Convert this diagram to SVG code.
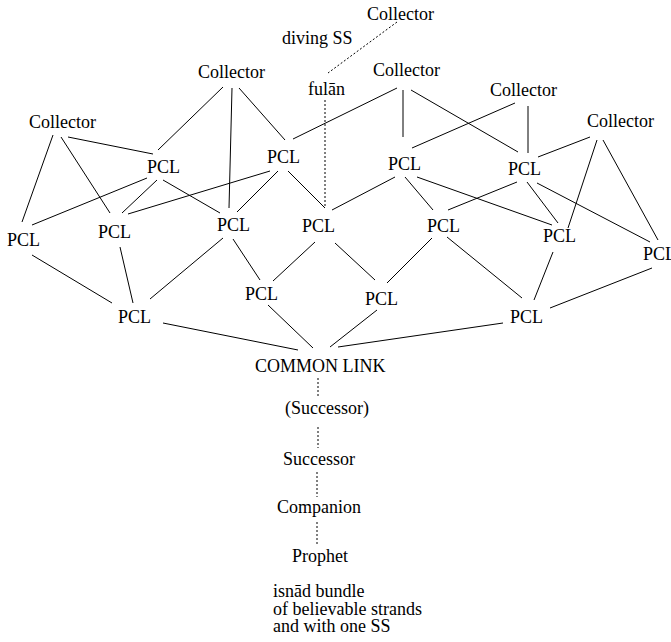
<svg xmlns="http://www.w3.org/2000/svg" width="671" height="642" viewBox="0 0 671 642">
  <style>
    .edge { stroke: #000; stroke-width: 1; fill: none; }
    .dot { stroke: #000; stroke-width: 1; fill: none; stroke-dasharray: 2 2; }
  </style>
  <rect width="671" height="642" fill="#fff"/>

  <!-- connectors -->
  <g id="connectors">
    <line class="edge" x1="223" y1="87" x2="158" y2="150"/>
    <line class="edge" x1="232" y1="88" x2="229" y2="208"/>
    <line class="edge" x1="239" y1="88" x2="285" y2="140"/>
    <line class="edge" x1="293" y1="139" x2="397" y2="88"/>
    <line class="edge" x1="53" y1="135" x2="22" y2="222"/>
    <line class="edge" x1="61" y1="137" x2="110" y2="213"/>
    <line class="edge" x1="68" y1="137" x2="153" y2="154"/>
    <line class="edge" x1="147" y1="178" x2="32" y2="225"/>
    <line class="edge" x1="157" y1="180" x2="122" y2="213"/>
    <line class="edge" x1="163" y1="180" x2="220" y2="213"/>
    <line class="edge" x1="270" y1="171" x2="128" y2="214"/>
    <line class="edge" x1="278" y1="171" x2="237" y2="212"/>
    <line class="edge" x1="288" y1="171" x2="325" y2="208"/>
    <line class="dot" x1="397" y1="22" x2="328" y2="73"/>
    <line class="dot" x1="325" y1="100" x2="325" y2="208"/>
    <line class="edge" x1="403" y1="90" x2="403" y2="137"/>
    <line class="edge" x1="411" y1="90" x2="518" y2="152"/>
    <line class="edge" x1="515" y1="103" x2="412" y2="148"/>
    <line class="edge" x1="528" y1="106" x2="528" y2="153"/>
    <line class="edge" x1="590" y1="137" x2="538" y2="157"/>
    <line class="edge" x1="597" y1="140" x2="568" y2="228"/>
    <line class="edge" x1="603" y1="140" x2="658" y2="240"/>
    <line class="edge" x1="395" y1="177" x2="332" y2="210"/>
    <line class="edge" x1="405" y1="177" x2="433" y2="210"/>
    <line class="edge" x1="417" y1="177" x2="552" y2="225"/>
    <line class="edge" x1="517" y1="182" x2="448" y2="210"/>
    <line class="edge" x1="527" y1="182" x2="558" y2="223"/>
    <line class="edge" x1="537" y1="183" x2="650" y2="242"/>
    <line class="edge" x1="32" y1="255" x2="112" y2="303"/>
    <line class="edge" x1="120" y1="247" x2="133" y2="303"/>
    <line class="edge" x1="223" y1="238" x2="150" y2="299"/>
    <line class="edge" x1="233" y1="239" x2="260" y2="280"/>
    <line class="edge" x1="315" y1="242" x2="273" y2="281"/>
    <line class="edge" x1="335" y1="243" x2="375" y2="280"/>
    <line class="edge" x1="432" y1="238" x2="387" y2="283"/>
    <line class="edge" x1="447" y1="237" x2="522" y2="298"/>
    <line class="edge" x1="553" y1="252" x2="534" y2="300"/>
    <line class="edge" x1="652" y1="268" x2="550" y2="308"/>
    <line class="edge" x1="268" y1="305" x2="313" y2="348"/>
    <line class="edge" x1="163" y1="323" x2="298" y2="350"/>
    <line class="edge" x1="377" y1="310" x2="330" y2="347"/>
    <line class="edge" x1="503" y1="323" x2="338" y2="347"/>
    <line class="dot" x1="318" y1="378" x2="318" y2="398"/>
    <line class="dot" x1="318" y1="427" x2="318" y2="448"/>
    <line class="dot" x1="317" y1="472" x2="317" y2="497"/>
    <line class="dot" x1="317" y1="522" x2="317" y2="545"/>
  </g>

  <g font-family="Liberation Serif, Times New Roman, serif" font-size="18" fill="#000">
    <!-- collectors -->
    <g id="collector-top"><text x="367" y="20">Collector</text></g>
    <g id="diving-ss"><text x="282" y="44">diving SS</text></g>
    <g id="fulan"><text x="308" y="95">fulān</text></g>
    <g id="collector-a"><text x="198" y="78">Collector</text></g>
    <g id="collector-b"><text x="373" y="76">Collector</text></g>
    <g id="collector-c"><text x="490" y="96">Collector</text></g>
    <g id="collector-d"><text x="587" y="127">Collector</text></g>
    <g id="collector-e"><text x="29" y="128">Collector</text></g>

    <!-- partial common links, upper tier -->
    <g id="pcl-1"><text x="147" y="173">PCL</text></g>
    <g id="pcl-2"><text x="267" y="163">PCL</text></g>
    <g id="pcl-3"><text x="388" y="170">PCL</text></g>
    <g id="pcl-4"><text x="508" y="175">PCL</text></g>

    <!-- middle tier -->
    <g id="pcl-5"><text x="7" y="246">PCL</text></g>
    <g id="pcl-6"><text x="98" y="238">PCL</text></g>
    <g id="pcl-7"><text x="217" y="231">PCL</text></g>
    <g id="pcl-8"><text x="302" y="232">PCL</text></g>
    <g id="pcl-9"><text x="427" y="232">PCL</text></g>
    <g id="pcl-10"><text x="543" y="242">PCL</text></g>
    <g id="pcl-11"><text x="643" y="260">PCL</text></g>

    <!-- lower tier -->
    <g id="pcl-12"><text x="245" y="300">PCL</text></g>
    <g id="pcl-13"><text x="365" y="305">PCL</text></g>
    <g id="pcl-14"><text x="118" y="323">PCL</text></g>
    <g id="pcl-15"><text x="510" y="323">PCL</text></g>

    <!-- single strand below the common link -->
    <g id="common-link"><text x="255" y="372">COMMON LINK</text></g>
    <g id="successor-opt"><text x="285" y="414">(Successor)</text></g>
    <g id="successor"><text x="283" y="465">Successor</text></g>
    <g id="companion"><text x="277" y="513">Companion</text></g>
    <g id="prophet"><text x="292" y="562">Prophet</text></g>

    <g id="caption">
      <text x="273" y="597">isnād bundle</text>
      <text x="273" y="614.5">of believable strands</text>
      <text x="273" y="632">and with one SS</text>
    </g>
  </g>
</svg>
